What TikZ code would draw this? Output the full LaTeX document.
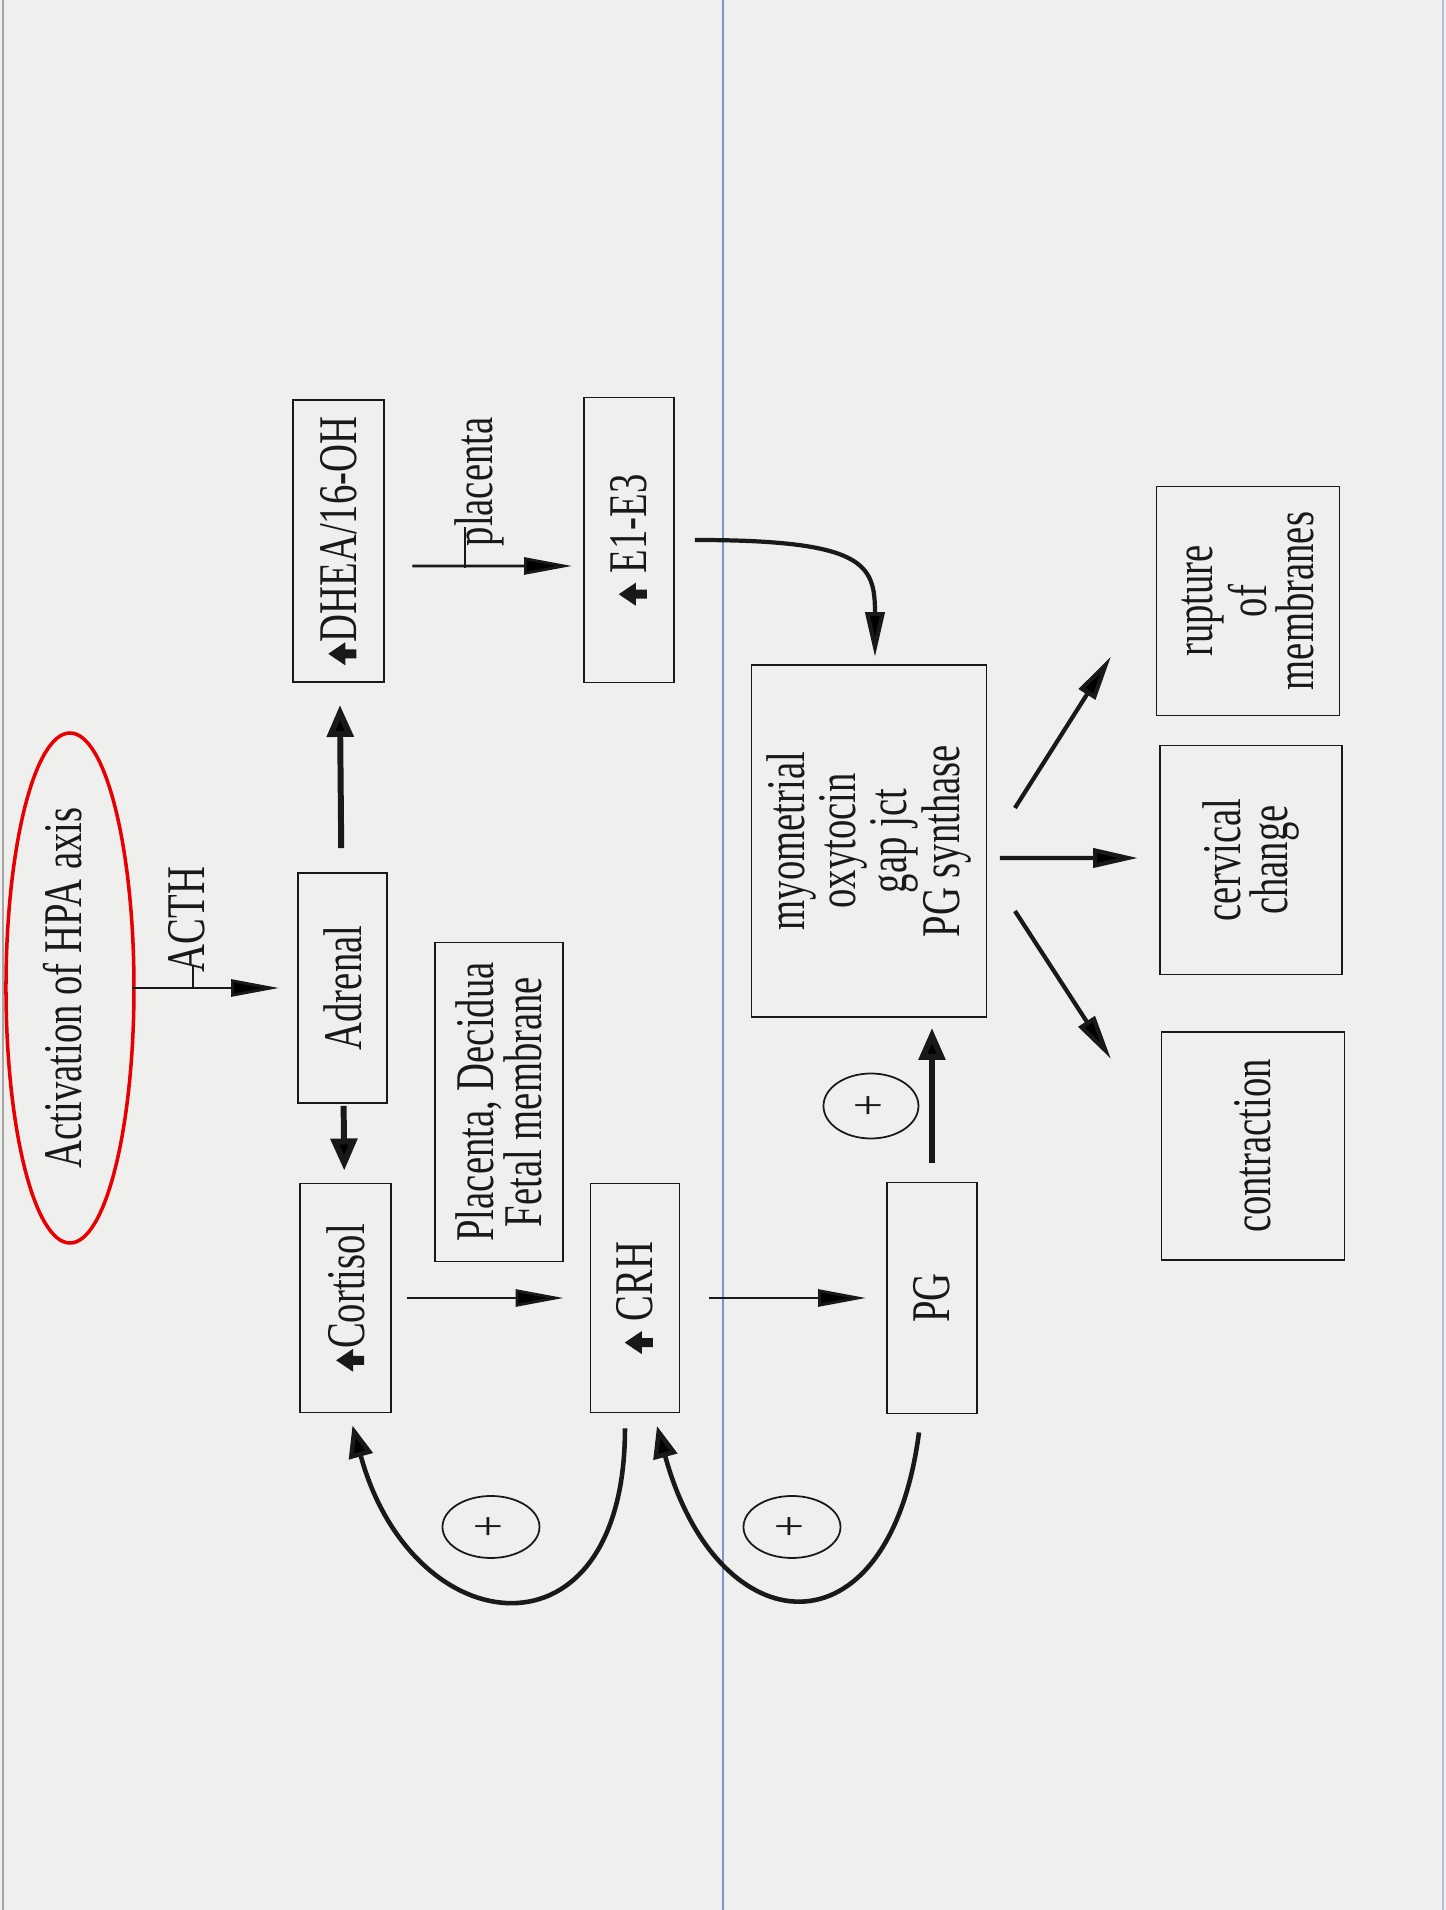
\documentclass[tikz,border=0pt]{standalone}
\usepackage{fontspec}
\setmainfont{Liberation Serif}[FakeStretch=0.71]
\usetikzlibrary{arrows.meta,shapes.geometric,calc}

\definecolor{paper}{RGB}{239,239,237}
\definecolor{ink}{RGB}{25,25,25}
\definecolor{hpared}{RGB}{232,0,0}
\definecolor{scanline}{RGB}{120,150,215}

% small bold "increase" arrow in front of a hormone name
\newcommand{\rise}{\tikz[baseline=0pt]\fill[ink] (-0.045,0) -- (0.045,0) -- (0.045,0.11) -- (0.115,0.11) -- (0,0.28) -- (-0.115,0.11) -- (-0.045,0.11) -- cycle;}

\begin{document}
\begin{tikzpicture}[rotate=90,transform shape,font=\fontsize{15.5}{13.5}\selectfont]
  \tikzstyle{box}=[draw=ink,line width=0.55pt,inner sep=0pt,align=center,text=ink]
  \tikzstyle{tag}=[inner sep=0pt,text=ink]
  \tikzstyle{plus}=[draw=ink,ellipse,line width=0.5pt,inner sep=0pt,minimum width=0.62cm,minimum height=0.97cm,text=ink]
  \tikzstyle{flow}=[draw=ink,line width=0.8pt,-{Triangle[length=4.8mm,width=1.7mm]}]
  \tikzstyle{push}=[draw=ink,line width=1.7pt,-{Triangle[length=3.2mm,width=2.6mm]}]
  \tikzstyle{fan}=[draw=ink,line width=1.2pt,-{Triangle[length=4.5mm,width=1.9mm]}]
  \tikzstyle{feedback}=[draw=ink,line width=1.3pt,-{Triangle[length=3.2mm,width=2.4mm]}]
  \tikzstyle{tick}=[draw=ink,line width=0.8pt]

  % the scanned page
  \useasboundingbox (0,0) rectangle (19.10,14.46);
  \fill[paper] (0,0) rectangle (19.10,14.46);
  \draw[gray!70,line width=0.4pt] (0,14.43) -- (19.10,14.43);
  \draw[scanline!60,line width=0.4pt] (0,0.03) -- (19.10,0.03);
  \draw[scanline,line width=0.3pt] (0,7.23) -- (19.10,7.23);

  % boxes
  \node[box,ellipse,draw=hpared,line width=1pt,minimum width=5cm,minimum height=1.28cm,text depth=1.6mm] (hpa) at (9.22,13.76) {Activation of HPA axis};
  \node[box,minimum width=2.30cm,minimum height=0.89cm] (adrenal) at (9.22,11.035) {Adrenal};
  \node[box,minimum width=2.82cm,minimum height=0.91cm] (dhea) at (13.69,11.075) {\rise DHEA/16-OH};
  \node[box,minimum width=2.29cm,minimum height=0.91cm] (cortisol) at (6.12,11.005) {\rise Cortisol};
  \node[box,minimum width=3.19cm,minimum height=1.28cm] (tissue) at (8.08,9.47) {Placenta, Decidua\\Fetal membrane};
  \node[box,minimum width=2.85cm,minimum height=0.90cm] (e13) at (13.70,8.17) {\rise\ E1-E3};
  \node[box,minimum width=2.29cm,minimum height=0.89cm] (crh) at (6.12,8.11) {\rise\ CRH};
  \node[box,minimum width=3.52cm,minimum height=2.35cm] (myo) at (10.69,5.77) {myometrial\\oxytocin\\gap jct\\PG synthase};
  \node[box,minimum width=2.31cm,minimum height=0.90cm] (pg) at (6.12,5.14) {PG};
  \node[box,minimum width=2.29cm,minimum height=1.83cm] (rupture) at (13.09,1.98) {rupture\\of\\membranes};
  \node[box,minimum width=2.29cm,minimum height=1.82cm] (cervical) at (10.50,1.95) {cervical\\change};
  \node[box,minimum width=2.28cm,minimum height=1.83cm] (contraction) at (7.64,1.93) {contraction};

  % positive feedback marks
  \node[plus] (plus1) at (3.83,9.55) {+};
  \node[plus] (plus2) at (3.83,6.54) {+};
  \node[plus,minimum width=0.65cm,minimum height=0.95cm] (plus3) at (8.04,5.75) {+};

  % labels on arrows
  \node[tag,anchor=base west] (acth) at (9.37,12.41) {ACTH};
  \node[tag,anchor=base west] (plac) at (13.63,9.53) {placenta};

  % arrows
  \draw[flow,shorten <=-0.04cm,shorten >=0.18cm] (hpa.south) -- (adrenal.north);
  \draw[tick] ($(acth.base west)+(0.07,0.12)$) -- ++(-0.22,0);
  \draw[push,shorten <=0.24cm,shorten >=0.22cm] (adrenal) -- (dhea);
  \draw[push,shorten <=0.02cm,shorten >=0.12cm] (adrenal) -- (cortisol);
  \draw[flow] ($(dhea.south)+(-0.25,-0.275)$) -- ($(e13.north)+(-0.26,0.11)$);
  \draw[tick] ($(plac.base west)+(0.2,0.28)$) -- ++(-0.41,0);
  \draw[flow,shorten <=0.15cm,shorten >=0.26cm] (cortisol) -- (crh);
  \draw[flow,shorten <=0.29cm,shorten >=0.2cm] (crh) -- (pg);
  \draw[push,shorten <=0.19cm,shorten >=0.1cm] (pg.east) -- (pg.east -| myo.west);
  \draw[fan,shorten <=0.2cm,shorten >=0.07cm] (e13.south) .. controls +(0,-1.9) and +(1.0,0) .. ($(myo.east)+(0,-0.06)$);
  \draw[fan] ($(myo.south)+(0.33,-0.275)$) -- ($(rupture.north west)+(0.6,0.445)$);
  \draw[fan] ($(myo.south)+(-0.17,-0.125)$) -- ($(cervical.north)+(0.02,0.21)$);
  \draw[fan] ($(myo.south)+(-0.70,-0.275)$) -- ($(contraction.north east)+(-0.28,0.495)$);

  % feedback loops
  \draw[feedback] ($(crh.west)+(-0.15,0.10)$) .. controls +(-2.4,0) and +(-2.2,-0.6) .. ($(cortisol.west)+(-0.12,-0.07)$);
  \draw[feedback] ($(pg.west)+(-0.18,0.13)$) .. controls +(-2.3,0.3) and +(-2.2,-0.6) .. ($(crh.west)+(-0.125,-0.22)$);
\end{tikzpicture}
\end{document}
